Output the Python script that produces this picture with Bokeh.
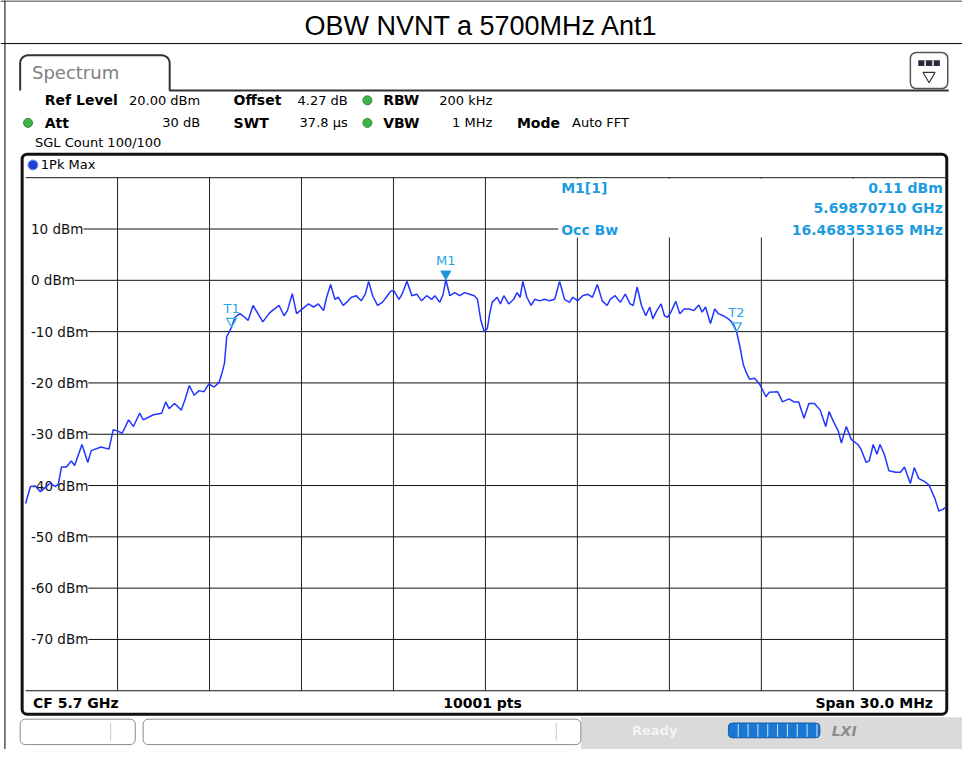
import numpy as np
from bokeh.plotting import figure
from bokeh.models import Range1d, BoxAnnotation
from bokeh.core.properties import value
from bokeh.embed import file_html
from bokeh.resources import INLINE

# ---------------- data ----------------
TITLE = "OBW NVNT a 5700MHz Ant1"
CENTER_MHZ = 5700.0
SPAN_MHZ = 30.0
REF_LEVEL_DBM = 20.0
DB_PER_DIV = 10.0
N_DIVS = 10

FREQ_GRID_OFFSETS_MHZ = [-12, -9, -6, -3, 0, 3, 6, 9, 12]
LEVEL_TICKS_DBM = [10, 0, -10, -20, -30, -40, -50, -60, -70]
LEVEL_TICK_LABELS = ["10 dBm", "0 dBm", "-10 dBm", "-20 dBm", "-30 dBm",
                     "-40 dBm", "-50 dBm", "-60 dBm", "-70 dBm"]

TRACE_OFFSET_MHZ = [
    -15.00, -14.84, -14.68, -14.52, -14.36, -14.20, -14.03, -13.93, -13.83, -13.67,
    -13.51, -13.40, -13.16, -12.97, -12.86, -12.54, -12.28, -12.14, -11.99, -11.85,
    -11.64, -11.48, -11.28, -11.16, -10.83, -10.56, -10.43, -10.32, -10.14, -9.92,
    -9.79, -9.66, -9.50, -9.34, -9.18, -9.02, -8.85, -8.69, -8.59, -8.51,
    -8.44, -8.33, -8.28, -8.17, -8.01, -7.85, -7.74, -7.58, -7.42, -7.26,
    -7.05, -6.89, -6.73, -6.57, -6.46, -6.30, -6.16, -5.98, -5.77, -5.61,
    -5.45, -5.28, -5.18, -5.05, -4.91, -4.80, -4.64, -4.48, -4.37, -4.21,
    -4.05, -3.92, -3.81, -3.68, -3.52, -3.36, -3.20, -3.09, -2.98, -2.82,
    -2.72, -2.56, -2.40, -2.24, -2.08, -1.92, -1.75, -1.65, -1.49, -1.38,
    -1.29, -1.16, -1.00, -0.84, -0.68, -0.52, -0.36, -0.26, -0.15, -0.04,
    0.06, 0.14, 0.22, 0.38, 0.49, 0.60, 0.76, 0.92, 1.03, 1.13,
    1.22, 1.35, 1.49, 1.61, 1.77, 1.93, 2.09, 2.26, 2.42, 2.58,
    2.74, 2.85, 3.01, 3.17, 3.33, 3.49, 3.65, 3.81, 3.97, 4.07,
    4.23, 4.40, 4.56, 4.72, 4.82, 4.95, 5.09, 5.23, 5.36, 5.46,
    5.59, 5.73, 5.84, 5.94, 6.05, 6.21, 6.34, 6.48, 6.64, 6.80,
    6.96, 7.07, 7.18, 7.34, 7.48, 7.60, 7.76, 7.92, 8.08, 8.19,
    8.30, 8.41, 8.51, 8.62, 8.78, 8.94, 9.15, 9.26, 9.53, 9.69,
    9.90, 10.06, 10.22, 10.39, 10.55, 10.73, 10.92, 11.10, 11.21, 11.35,
    11.51, 11.61, 11.77, 11.93, 12.15, 12.25, 12.42, 12.52, 12.65, 12.77,
    12.87, 13.01, 13.16, 13.38, 13.54, 13.67, 13.86, 13.99, 14.13, 14.34,
    14.47, 14.66, 14.79, 14.93, 15.00]

TRACE_LEVEL_DBM = [
    -43.5, -40.2, -40.1, -41.2, -40.4, -39.5, -40.2, -39.7, -36.4, -36.4,
    -35.2, -36.1, -32.0, -35.5, -33.2, -32.5, -32.9, -29.1, -29.4, -29.8,
    -27.2, -28.5, -25.9, -27.2, -26.2, -25.9, -23.7, -25.0, -24.0, -25.3,
    -23.1, -20.5, -22.4, -21.5, -21.7, -20.2, -20.8, -19.9, -18.0, -16.1,
    -11.0, -9.7, -9.1, -7.2, -6.5, -7.2, -7.8, -4.9, -6.5, -8.1,
    -6.4, -5.6, -4.9, -6.9, -5.9, -2.6, -6.5, -5.6, -4.6, -5.2,
    -4.6, -5.9, -3.3, -0.8, -3.7, -3.3, -4.9, -4.0, -3.3, -3.0,
    -4.0, -2.7, -0.2, -3.0, -4.9, -4.3, -3.0, -2.1, -2.1, -3.7,
    -2.7, -0.2, -3.0, -2.7, -4.0, -3.0, -3.7, -3.0, -4.3, -2.7,
    0.11, -3.0, -2.4, -3.0, -2.4, -2.7, -3.0, -3.7, -7.8, -10.0,
    -9.4, -6.5, -4.3, -3.3, -4.6, -3.0, -4.6, -3.7, -2.4, -3.3,
    -0.2, -3.3, -4.9, -3.7, -4.0, -3.7, -4.0, -3.7, -0.2, -3.7,
    -4.3, -3.3, -4.0, -3.0, -2.7, -3.3, -0.8, -4.0, -4.9, -3.7,
    -3.0, -4.3, -2.7, -4.6, -4.9, -1.3, -4.9, -6.9, -5.2, -7.5,
    -5.9, -4.6, -6.9, -7.2, -6.2, -4.1, -6.5, -5.6, -5.6, -5.9,
    -4.8, -6.2, -5.2, -8.4, -5.6, -6.5, -6.9, -7.5, -8.4, -10.0,
    -12.9, -16.4, -18.0, -19.3, -19.1, -20.2, -22.7, -21.8, -21.7, -23.7,
    -23.1, -23.7, -23.7, -26.9, -24.0, -24.0, -25.3, -28.5, -25.6, -27.5,
    -29.4, -31.7, -28.5, -31.0, -32.0, -32.9, -35.5, -35.2, -32.0, -33.9,
    -32.0, -33.9, -37.1, -37.4, -37.4, -36.4, -39.6, -36.5, -38.6, -39.3,
    -39.9, -42.5, -45.0, -44.6, -44.3]

M1_FREQ_GHZ = 5.69870710
M1_LEVEL_DBM = 0.11
OCC_BW_MHZ = 16.468353165
T1_OFFSET_MHZ = -8.28
T1_LEVEL_DBM = -9.1
T2_LEVEL_DBM = -10.0

SETTINGS_ROW1 = [("Ref Level", "bold"), ("20.00 dBm", "normal"), ("Offset", "bold"),
                 ("4.27 dB", "normal"), ("RBW", "bold"), ("200 kHz", "normal")]
SETTINGS_ROW2 = [("Att", "bold"), ("30 dB", "normal"), ("SWT", "bold"),
                 ("37.8 µs", "normal"), ("VBW", "bold"), ("1 MHz", "normal"),
                 ("Mode", "bold"), ("Auto FFT", "normal")]
SWEEP_INFO = "SGL Count 100/100"
TRACE_NAME = "1Pk Max"
FOOTER = ["CF 5.7 GHz", "10001 pts", "Span 30.0 MHz"]

# ---------------- geometry (reference pixel space, scaled into the canvas) ----------------
X0, X1, Y0, Y1 = 0.0, 978.0, 0.0, 765.0
CW, CH = 962, 749
SY = CH / (Y1 - Y0)
PL, PR, PT, PB = 25.5, 960.5, 181.0, 705.0

f_lo = CENTER_MHZ - SPAN_MHZ / 2
f_hi = CENTER_MHZ + SPAN_MHZ / 2
lv_top = REF_LEVEL_DBM
lv_bot = REF_LEVEL_DBM - N_DIVS * DB_PER_DIV
ppm = (PR - PL) / SPAN_MHZ
ppd = (PB - PT) / (lv_top - lv_bot)

p = figure(width=CW, height=CH,
           x_range=Range1d(X0, X1), y_range=Range1d(Y1, Y0),
           output_backend="svg", toolbar_location=None,
           x_axis_type=None, y_axis_type=None, min_border=0)
p.outline_line_color = None
p.background_fill_color = "white"
p.grid.visible = False
p.extra_x_ranges = {"f": Range1d(f_lo - (PL - X0) / ppm, f_hi + (X1 - PR) / ppm)}
p.extra_y_ranges = {"L": Range1d(lv_bot - (Y1 - PB) / ppd, lv_top + (PT - Y0) / ppd)}

DV = "DejaVu Sans"
BLUE_TXT = "#1d9be0"


def txt(x, y, s, size=13, bold=False, color="black", align="left", font=DV, italic=False):
    style = "bold" if bold else "normal"
    if italic:
        style = "bold italic" if bold else "italic"
    p.text(x=[x], y=[y], text=[s], text_font=value(font), text_font_size=f"{size}px",
           text_font_style=style, text_color=color, text_align=align,
           text_baseline="middle")


def arc(cx, cy, r, a0, a1, n=8):
    a = np.radians(np.linspace(a0, a1, n))
    return list(cx + r * np.cos(a)), list(cy - r * np.sin(a))


def box(l, r, t, b, fill="white", line="#8a8a8a", lw=1, rad=5, level="underlay"):
    p.add_layout(BoxAnnotation(left=l, right=r, top=t, bottom=b,
                               fill_color=fill if fill else "white",
                               fill_alpha=1 if fill else 0,
                               line_color=line if line else "white",
                               line_alpha=1 if line else 0,
                               line_width=lw, border_radius=rad, level=level))


# ---------------- title block ----------------
p.segment(x0=[X0, X0, 4.5], y0=[0.5, 44, Y0], x1=[X1, X1, 4.5], y1=[0.5, 44, Y1],
          line_color="black", line_width=1)
txt(489, 26, TITLE, size=27, font="Liberation Sans", align="center")

# ---------------- Spectrum tab ----------------
ax1, ay1 = arc(28, 64, 8, 180, 90)
ax2, ay2 = arc(164, 64, 8, 90, 0)
p.line(x=[20] + ax1 + ax2 + [172, 172, 964], y=[92] + ay1 + ay2 + [64, 92, 92],
       line_color="#333333", line_width=2)
txt(32, 74, "Spectrum", size=18, color="#808080")

# icon box top right (underlay, contents drawn on top)
box(925, 963, 53, 90, fill="white", line="#555555", lw=1.5, rad=6)
p.quad(left=[933], right=[955], top=[61], bottom=[67], fill_color="#2a2a3a", line_color=None)
p.segment(x0=[940, 948], y0=[61, 61], x1=[940, 948], y1=[67, 67], line_color="white", line_width=1.5)
p.scatter(x=[944], y=[77], marker="inverted_triangle", size=12, fill_color="white",
          line_color="#333333", line_width=1.2)

# ---------------- settings header ----------------
row1_x = [45, 203, 237, 353, 389, 500]
row1_al = ["left", "right", "left", "right", "left", "right"]
for (s, w), x, al in zip(SETTINGS_ROW1, row1_x, row1_al):
    txt(x, 102, s, size=14 if w == "bold" else 13, bold=(w == "bold"), align=al)
row2_x = [45, 203, 237, 353, 389, 500, 525, 581]
row2_al = ["left", "right", "left", "right", "left", "right", "left", "left"]
for (s, w), x, al in zip(SETTINGS_ROW2, row2_x, row2_al):
    txt(x, 125, s, size=14 if w == "bold" else 13, bold=(w == "bold"), align=al)
txt(35, 145, SWEEP_INFO, size=13)
p.scatter(x=[28, 373, 373], y=[125, 102, 125], marker="circle", size=9,
          fill_color="#3fb24a", line_color="#2b8a34", line_width=1)

# ---------------- diagram ----------------
txt(41, 168, TRACE_NAME, size=13)
p.scatter(x=[33], y=[168], marker="circle", size=10, fill_color="#1f3fd6",
          line_color="#7f9bff", line_width=1)

# grid (through the frequency / level scales)
fx = [CENTER_MHZ + o for o in FREQ_GRID_OFFSETS_MHZ]
p.segment(x0=fx, y0=[lv_bot] * len(fx), x1=fx, y1=[lv_top] * len(fx),
          x_range_name="f", y_range_name="L", line_color="#222222", line_width=1)
hl = LEVEL_TICKS_DBM + [lv_top, lv_bot]
p.segment(x0=[f_lo] * len(hl), y0=hl, x1=[f_hi] * len(hl), y1=hl,
          x_range_name="f", y_range_name="L", line_color="#111111", line_width=1)

# blank strip left of the level labels
p.quad(left=[24.5], right=[31], top=[182], bottom=[704], fill_color="white", line_color=None)
p.text(x=[f_lo] * len(LEVEL_TICKS_DBM), y=LEVEL_TICKS_DBM, text=LEVEL_TICK_LABELS,
       x_range_name="f", y_range_name="L", x_offset=5.4,
       text_font=value(DV), text_font_size="13.5px", text_color="#111111",
       text_align="left", text_baseline="middle",
       background_fill_color="white")

# marker info panel
p.quad(left=[567], right=[962], top=[182], bottom=[242], fill_color="white", line_color=None)
txt(570, 192, "M1[1]", size=14, bold=True, color=BLUE_TXT)
txt(958, 192, f"{M1_LEVEL_DBM:.2f} dBm", size=14, bold=True, color=BLUE_TXT, align="right")
txt(958, 212, f"{M1_FREQ_GHZ:.8f} GHz", size=14, bold=True, color=BLUE_TXT, align="right")
txt(570, 234, "Occ Bw", size=14, bold=True, color=BLUE_TXT)
txt(958, 234, f"{OCC_BW_MHZ:.9f} MHz", size=14, bold=True, color=BLUE_TXT, align="right")

# trace
freqs = [CENTER_MHZ + o for o in TRACE_OFFSET_MHZ]
p.line(x=freqs, y=TRACE_LEVEL_DBM, x_range_name="f", y_range_name="L",
       line_color="#2236ff", line_width=1.5)

# markers
tip = 5.8 / (ppd * SY)
mk_f = [M1_FREQ_GHZ * 1000, CENTER_MHZ + T1_OFFSET_MHZ, CENTER_MHZ + T1_OFFSET_MHZ + OCC_BW_MHZ]
mk_l = [M1_LEVEL_DBM, T1_LEVEL_DBM, T2_LEVEL_DBM]
p.scatter(x=mk_f[:1], y=[mk_l[0] + tip], x_range_name="f", y_range_name="L",
          marker="inverted_triangle", size=10, fill_color="#1e96e0", line_color="#1e96e0")
p.scatter(x=mk_f[1:], y=[v + tip for v in mk_l[1:]], x_range_name="f", y_range_name="L",
          marker="inverted_triangle", size=10, fill_color=None, line_color="#39aee8",
          line_width=1.3)
p.text(x=mk_f, y=mk_l, text=["M1", "T1", "T2"], x_range_name="f", y_range_name="L",
       y_offset=-19, text_font=value(DV), text_font_size="13px",
       text_color="#2aa4e6", text_align="center", text_baseline="middle")

# footer of the diagram
txt(33, 717, FOOTER[0], size=14, bold=True)
txt(490, 717, FOOTER[1], size=14, bold=True, align="center")
txt(948, 717, FOOTER[2], size=14, bold=True, align="right")

# diagram frame (drawn above everything)
box(22, 962, 157, 729, fill=None, line="#111111", lw=3, rad=5, level="annotation")

# ---------------- status bar ----------------
box(590, X1 + 5, 732, Y1 + 5, fill="#dadada", line=None, rad=0)
box(20, 137, 734, 760)
box(145, 590, 734, 760)
box(740, 833, 738, 753, fill="#1a78d4", line="#0f5aa8", lw=1, rad=4)
p.segment(x0=[112, 565], y0=[738, 738], x1=[112, 565], y1=[756, 756],
          line_color="#c8c8c8", line_width=1)
txt(642, 746, "Ready", size=13, bold=True, color="#f4f4f4")
bx = list(np.arange(750, 833, 10))
p.segment(x0=bx, y0=[739] * len(bx), x1=bx, y1=[752] * len(bx), line_color="#cfe4f8", line_width=1)
txt(845, 746, "LXI", size=14, bold=True, italic=True, color="#8c8c8c")

open("out.html", "w").write(file_html(p, INLINE))
